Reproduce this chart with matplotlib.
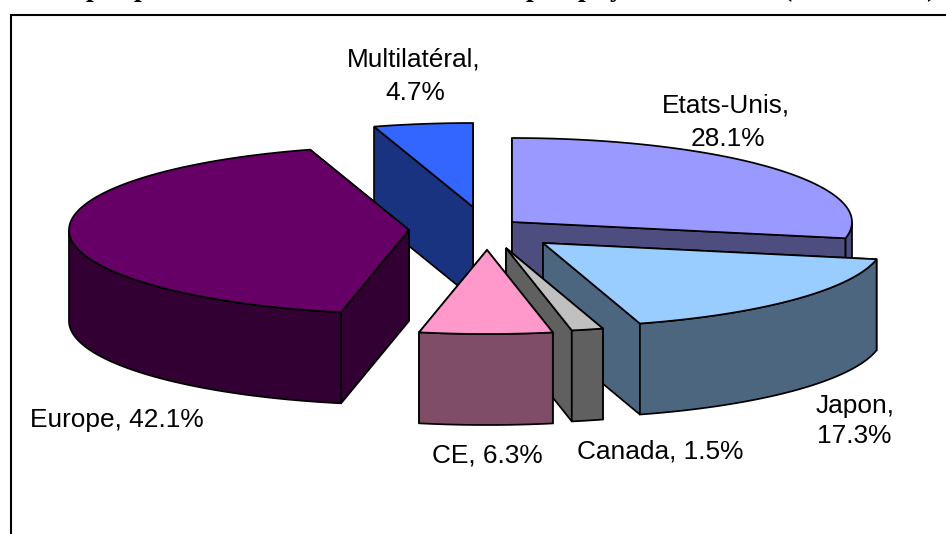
import numpy as np
import matplotlib
matplotlib.use("Agg")
import matplotlib.pyplot as plt

# --- DATA ---
labels = ["Etats-Unis", "Japon", "Canada", "CE", "Europe", "Multilatéral"]
shares = [28.1, 17.3, 1.5, 6.3, 42.1, 4.7]

# title sits above the crop, only these descender bits can be read
title_bits = ["p", "p", "p", "p", "y", "(", ")"]

# --- STYLE / LAYOUT ---
top_colors = ["#9999FF", "#99CCFF", "#C0C0C0", "#FF99CC", "#660066", "#3366FF"]
wall_colors = ["#4D4D80", "#4D6680", "#606060", "#804D66", "#330033", "#1A3380"]
explode = [(22, -8), (53, 13), (16, 18), (-3, 20), (-81, 0), (-17, -23)]
draw_order = [0, 5, 4, 1, 2, 3]
label_lines = [
    ("Multilatéral,", 414, 66), ("4.7%", 415, 100),
    ("Etats-Unis,", 726, 112), ("28.1%", 728, 146),
    ("Japon,", 855, 413), ("17.3%", 854, 443),
    ("Europe, 42.1%", 117, 427),
    ("CE, 6.3%", 487, 463),
    ("Canada, 1.5%", 660, 458),
]
title_x = [86, 134, 526, 578, 610, 783, 926]

CX, CY = 490, 230
RX, RY = 340, 84
DEPTH = 91
LW = 1.25


def rim(theta):
    # theta in degrees, clockwise from 12 o'clock
    t = np.radians(theta)
    return np.sin(t) * RX, -np.cos(t) * RY


def draw_slice(ax, start, end, off, top_c, wall_c):
    ax_x, ax_y = CX + off[0], CY + off[1]
    ts = np.linspace(start, end, 80)
    dx, dy = rim(ts)
    xs, ys = ax_x + dx, ax_y + dy
    style = dict(edgecolor="black", linewidth=LW, joinstyle="miter")

    # radial walls, the one lower on screen faces the viewer so it goes last
    for i in sorted((0, -1), key=lambda k: ys[k]):
        ax.fill([ax_x, xs[i], xs[i], ax_x],
                [ax_y, ys[i], ys[i] + DEPTH, ax_y + DEPTH],
                facecolor=wall_c, **style)

    lo, hi = max(start, 90), min(end, 270)
    if lo < hi:
        tf = np.linspace(lo, hi, 60)
        fx, fy = rim(tf)
        fx, fy = ax_x + fx, ax_y + fy
        ax.fill(np.r_[fx, fx[::-1]], np.r_[fy, fy[::-1] + DEPTH],
                facecolor=wall_c, **style)

    ax.fill(np.r_[ax_x, xs], np.r_[ax_y, ys], facecolor=top_c, **style)


fig = plt.figure(figsize=(9.46, 5.34), dpi=100, facecolor="white")
ax = fig.add_axes([0, 0, 1, 1])
ax.set_xlim(0, 946)
ax.set_ylim(534, 0)
ax.axis("off")

# frame of the pasted chart, runs off right and bottom
ax.plot([11, 11, 946], [534, 14.5, 14.5], color="black", lw=1.5, solid_joinstyle="miter")

edges = np.r_[0, np.cumsum(shares)] / np.sum(shares) * 360
for i in draw_order:
    draw_slice(ax, edges[i], edges[i + 1], explode[i], top_colors[i], wall_colors[i])

for txt, x, y in label_lines:
    ax.text(x, y, txt, ha="center", va="baseline", family="Liberation Sans",
            fontsize=18.9, color="black")

for s, x in zip(title_bits, title_x):
    ax.text(x, -4, s, ha="left", va="baseline", family="Liberation Serif",
            fontweight="bold", fontsize=20, color="black", clip_on=False)

fig.savefig("out.png", dpi=100)
